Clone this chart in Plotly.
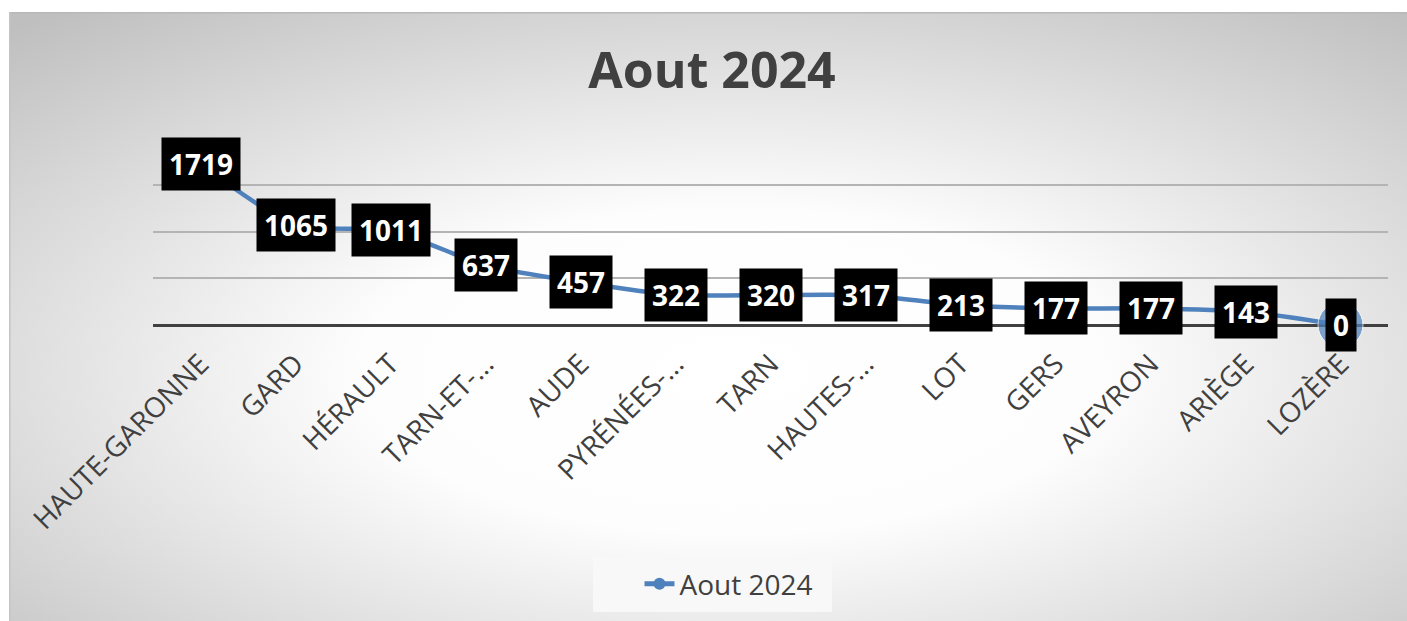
import base64
import plotly.graph_objects as go

# ---- data ----
categories = ["HAUTE-GARONNE", "GARD", "HÉRAULT", "TARN-ET-…", "AUDE", "PYRÉNÉES-…",
              "TARN", "HAUTES-…", "LOT", "GERS", "AVEYRON", "ARIÈGE", "LOZÈRE"]
values = [1719, 1065, 1011, 637, 457, 322, 320, 317, 213, 177, 177, 143, 0]
series_name = "Aout 2024"
title_text = "Aout 2024"

# ---- layout geometry (page px; body margin removed via post_script) ----
W, H = 1407, 621
ML, PR, PT, PB = 153, 1388, 138, 325
MR, MB = W - PR, H - PB
pw, ph = PR - ML, PB - PT

def px_to_paper_x(px):
    return (px - ML) / pw

def px_to_paper_y(py):
    return (PB - py) / ph

# radial gradient background as svg image
svg = (
    '<svg xmlns="http://www.w3.org/2000/svg" width="1420" height="620" viewBox="0 0 1420 620" preserveAspectRatio="none">'
    '<defs><radialGradient id="g" cx="0.51" cy="0.58" r="0.75">'
    '<stop offset="0" stop-color="#ffffff"/>'
    '<stop offset="0.35" stop-color="#fdfdfd"/>'
    '<stop offset="1" stop-color="#bfbfbf"/>'
    '</radialGradient></defs>'
    '<rect x="0" y="0" width="1420" height="620" fill="url(#g)"/>'
    '<line x1="0" y1="0.75" x2="1420" y2="0.75" stroke="#b8b8b8" stroke-width="1.5"/>'
    '<line x1="0.75" y1="0" x2="0.75" y2="620" stroke="#c4c4c4" stroke-width="1.5"/>'
    '</svg>'
)
svg_uri = "data:image/svg+xml;base64," + base64.b64encode(svg.encode()).decode()

# frame in page px
fx0, fy0, fx1, fy1 = 9, 12, 1429, 632
# legend box in page px
lx0, ly0, lx1, ly1 = 593, 557, 832, 612

marker_sizes = [13] * (len(values) - 1) + [45]

fig = go.Figure()
fig.add_trace(go.Scatter(
    x=categories, y=values, name=series_name, showlegend=False,
    mode="lines+markers", cliponaxis=False, hoverinfo="skip",
    line=dict(color="#4F81BD", width=4.5, shape="spline", smoothing=0.6),
    marker=dict(color="#4F81BD", size=marker_sizes),
))
# legend entry
fig.add_trace(go.Scatter(
    x=[None], y=[None], name=series_name, showlegend=True,
    mode="lines+markers",
    line=dict(color="#4F81BD", width=4.5),
    marker=dict(color="#4F81BD", size=13),
))

for c, v in zip(categories, values):
    fig.add_annotation(
        x=c, y=v, text=str(v), showarrow=False,
        font=dict(family="Open Sans", size=28, color="white", weight="bold"),
        bgcolor="black", borderpad=7,
        xanchor="center", yanchor="middle",
    )

fig.add_shape(type="rect", xref="paper", yref="paper",
              x0=px_to_paper_x(lx0), x1=px_to_paper_x(lx1),
              y0=px_to_paper_y(ly1), y1=px_to_paper_y(ly0),
              fillcolor="#f8f8f8", line=dict(width=0), layer="below")

fig.update_layout(
    width=W, height=H,
    margin=dict(l=ML, r=MR, t=PT, b=MB),
    paper_bgcolor="white",
    plot_bgcolor="rgba(0,0,0,0)",
    hovermode=False,
    title=dict(text="<b>" + title_text + "</b>", x=712 / W, xanchor="center",
               y=1 - 70 / H, yanchor="middle",
               font=dict(family="Open Sans", size=50, color="#404040")),
    showlegend=True,
    legend=dict(orientation="h", xref="container", yref="container",
                x=729 / W, xanchor="center", y=(H - 584) / H, yanchor="middle",
                bgcolor="rgba(0,0,0,0)", itemsizing="constant",
                font=dict(family="Open Sans", size=28, color="#404040")),
    images=[dict(source=svg_uri, xref="paper", yref="paper",
                 x=px_to_paper_x(fx0), y=px_to_paper_y(fy0),
                 sizex=(fx1 - fx0) / pw, sizey=(fy1 - fy0) / ph,
                 xanchor="left", yanchor="top", sizing="stretch", layer="below")],
)

fig.update_xaxes(
    type="category", range=[-0.5, len(categories) - 0.5],
    showgrid=False, showline=False, ticks="",
    tickangle=-45, ticklabelstandoff=16,
    tickfont=dict(family="Open Sans", size=28, color="#404040"),
)
fig.update_yaxes(
    range=[0, 2000], dtick=500, showticklabels=False, ticks="",
    showgrid=True, gridcolor="#b4b4b4", gridwidth=1.5,
    zeroline=True, zerolinecolor="#404040", zerolinewidth=3,
    showline=False,
)

fig.write_html(
    "out.html",
    config={"displayModeBar": False},
    post_script="document.body.style.margin='0';document.body.style.overflow='hidden';",
)
